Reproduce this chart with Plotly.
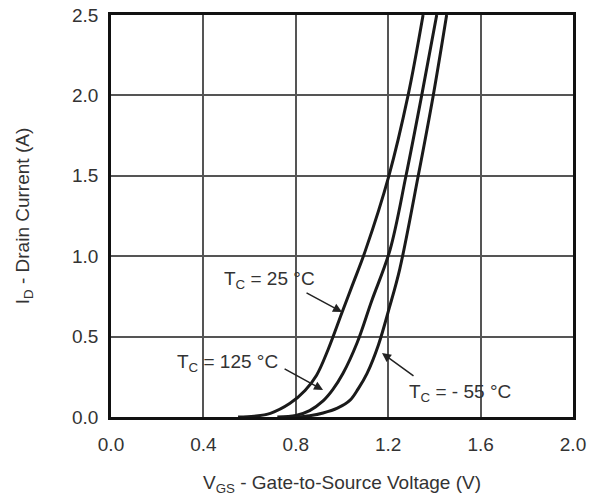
import plotly.graph_objects as go

# Curve data (V_GS in V, I_D in A)
vgs_25 = [0.55, 0.62, 0.69, 0.775, 0.84, 0.89, 0.94, 1.00, 1.045, 1.10, 1.203, 1.286, 1.351]
id_25 = [0.0, 0.005, 0.023, 0.085, 0.165, 0.26, 0.42, 0.65, 0.82, 1.03, 1.50, 2.00, 2.50]

vgs_125 = [0.72, 0.80, 0.86, 0.918, 0.96, 1.004, 1.065, 1.128, 1.208, 1.277, 1.345, 1.41]
id_125 = [0.0, 0.01, 0.04, 0.10, 0.17, 0.27, 0.46, 0.72, 1.04, 1.50, 2.00, 2.50]

vgs_m55 = [0.80, 0.86, 0.918, 0.98, 1.035, 1.07, 1.108, 1.158, 1.205, 1.25, 1.33, 1.395, 1.453]
id_m55 = [0.0, 0.008, 0.025, 0.055, 0.105, 0.175, 0.27, 0.45, 0.68, 0.92, 1.50, 2.00, 2.50]

x_ticks = [0.0, 0.4, 0.8, 1.2, 1.6, 2.0]
y_ticks = [0.0, 0.5, 1.0, 1.5, 2.0, 2.5]

labels = ["T<sub>C</sub> = 25 °C", "T<sub>C</sub> = 125 °C", "T<sub>C</sub> = - 55 °C"]

fig = go.Figure()
for xs, ys, name in [(vgs_25, id_25, labels[0]), (vgs_125, id_125, labels[1]), (vgs_m55, id_m55, labels[2])]:
    fig.add_trace(go.Scatter(x=xs, y=ys, mode="lines", name=name,
                             line=dict(color="#1a1a1a", width=3, shape="spline", smoothing=1.0),
                             showlegend=False, hoverinfo="skip"))

font = dict(family="Liberation Sans, Arial, sans-serif", size=19, color="#333333")

# Label texts
fig.add_annotation(x=0.684, y=0.852, text=labels[0], showarrow=False, font=font)
fig.add_annotation(x=0.504, y=0.336, text=labels[1], showarrow=False, font=font)
fig.add_annotation(x=1.511, y=0.149, text=labels[2], showarrow=False, font=font)

# Arrows
for (hx, hy, tx, ty) in [(1.0, 0.653, 0.84, 0.777), (0.918, 0.168, 0.745, 0.305), (1.173, 0.398, 1.316, 0.249)]:
    fig.add_annotation(x=hx, y=hy, ax=tx, ay=ty, xref="x", yref="y", axref="x", ayref="y",
                       text="", showarrow=True, arrowhead=2, arrowsize=1.2, arrowwidth=1.5,
                       arrowcolor="#222222")

fig.update_layout(
    width=594, height=500,
    margin=dict(l=111, r=21, t=15, b=83, autoexpand=False),
    plot_bgcolor="white", paper_bgcolor="white",
    font=font,
    xaxis=dict(range=[0, 2.0], tickvals=x_ticks, tickformat=".1f", automargin=False,
               showgrid=True, gridcolor="#555555", gridwidth=1.5,
               showline=True, linecolor="#111111", linewidth=2.5, mirror=True,
               zeroline=False, ticks="", ticklabelstandoff=8,
               title=dict(text="V<sub>GS</sub> - Gate-to-Source Voltage (V)", standoff=23,
                          font=font)),
    yaxis=dict(range=[0, 2.5], tickvals=y_ticks, tickformat=".1f", automargin=False,
               showgrid=True, gridcolor="#555555", gridwidth=1.5,
               showline=True, linecolor="#111111", linewidth=2.5, mirror=True,
               zeroline=False, ticks="", ticklabelstandoff=6,
               title=dict(text="I<sub>D</sub> - Drain Current (A)", standoff=38, font=font)),
)

fig.write_html("out.html", config={"displayModeBar": False})

# remove the default page margin so the figure sits at the window origin
with open("out.html", "r", encoding="utf-8") as f:
    html = f.read()
html = html.replace("<body>", '<body style="margin:0;overflow:hidden">', 1)
with open("out.html", "w", encoding="utf-8") as f:
    f.write(html)
